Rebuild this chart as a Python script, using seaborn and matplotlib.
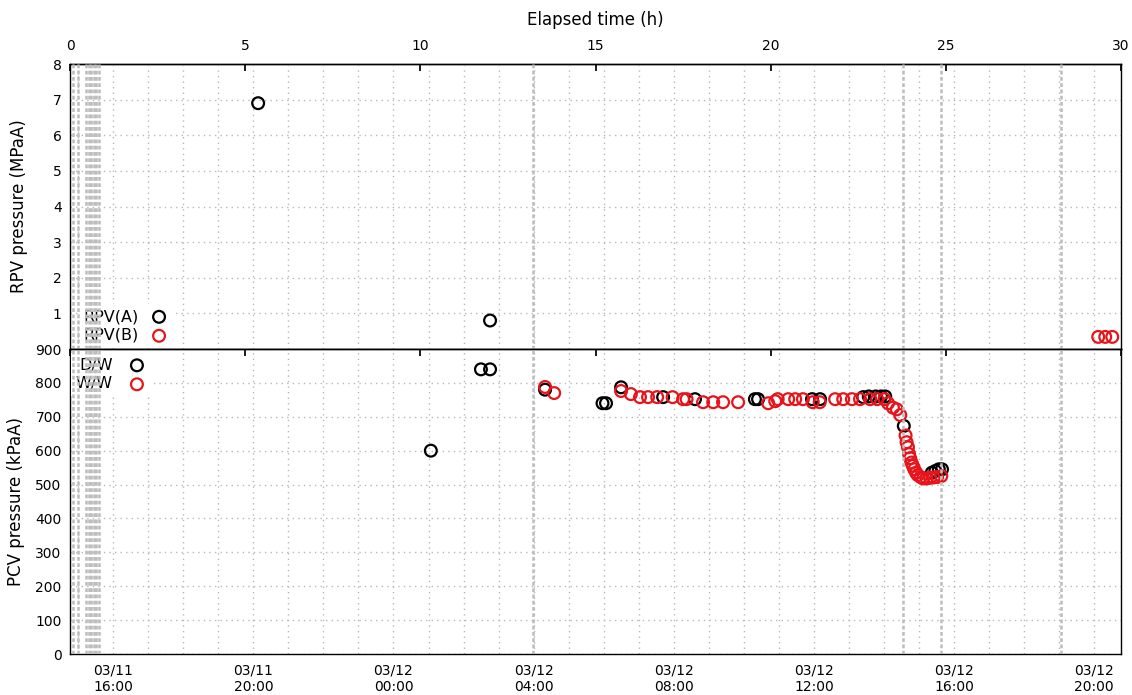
import matplotlib
matplotlib.use("Agg")
import matplotlib.pyplot as plt
import pandas as pd
import seaborn as sns

# time axis: hours elapsed since the earthquake
start = pd.Timestamp("2011-03-11 14:46")

# RPV pressure (MPa abs)
rpv_a_time = [5.37, 11.99]
rpv_a_mpa = [6.9, 0.8]
rpv_b_time = [29.35, 29.55, 29.75]
rpv_b_mpa = [0.34, 0.34, 0.34]

# PCV pressure (kPa abs)
dw_time = [10.3, 11.73, 11.99, 13.56, 15.2, 15.3, 15.73, 16.93, 17.84, 19.55,
           19.64, 21.18, 21.41, 22.64, 22.8, 23.0, 23.15, 23.27, 23.8, 24.6,
           24.7, 24.8, 24.89]
dw_kpa = [600, 840, 840, 780, 740, 740, 787, 758, 752, 752,
          752, 752, 752, 758, 760, 760, 760, 760, 673, 535,
          540, 545, 545]

ww_time = [13.56, 13.82, 15.73, 16.01, 16.27, 16.5, 16.76, 17.2, 17.5, 17.6,
           18.07, 18.36, 18.64, 19.07, 19.93, 20.13, 20.2, 20.5, 20.7, 20.92,
           21.2, 21.4, 21.84, 22.07, 22.32, 22.55, 22.84, 23.04, 23.25, 23.35,
           23.49, 23.6, 23.7, 23.85, 23.88, 23.92, 23.95, 23.98, 24.02, 24.06,
           24.1, 24.15, 24.2, 24.28, 24.35, 24.45, 24.55, 24.65, 24.75, 24.87]
ww_kpa = [788, 770, 776, 767, 758, 758, 758, 758, 752, 752,
          743, 743, 743, 743, 740, 746, 752, 752, 752, 752,
          743, 743, 752, 752, 752, 752, 752, 752, 752, 740,
          727, 722, 705, 645, 625, 610, 590, 578, 565, 555,
          545, 535, 528, 522, 518, 518, 520, 521, 522, 525]

# vertical event markers (venting / explosions etc.)
event_times = [0.08, 0.22, 0.47, 0.54, 0.61, 0.68, 0.75, 0.82,
               13.22, 23.78, 24.86, 28.29]

elapsed_ticks = [0, 5, 10, 15, 20, 25, 30]
rpv_ticks = [1, 2, 3, 4, 5, 6, 7, 8]
pcv_ticks = [0, 100, 200, 300, 400, 500, 600, 700, 800, 900]

hours = pd.date_range("2011-03-11 15:00", "2011-03-12 20:00", freq="h")
hour_pos = list((hours - start) / pd.Timedelta(hours=1))
hour_labels = [f"{h:%m/%d}\n{h:%H:%M}" if h.hour % 4 == 0 else "" for h in hours]

sns.set_theme(style="white")
plt.rcParams["font.family"] = ["DejaVu Sans"]
plt.rcParams["font.size"] = 10
plt.rcParams["text.color"] = "black"
plt.rcParams["axes.labelcolor"] = "black"
plt.rcParams["xtick.color"] = "black"
plt.rcParams["ytick.color"] = "black"
plt.rcParams["axes.edgecolor"] = "black"
plt.rcParams["axes.linewidth"] = 1.0

RED = "#e8141c"
grid_kw = dict(color="#b8b8b8", linestyle=(0, (1, 3)), linewidth=1.0)
mk = dict(marker="o", s=72, facecolors="none", linewidth=1.6)

fig = plt.figure(figsize=(11.32, 6.95), dpi=100)
ax1 = fig.add_axes([0.06184, 0.49784, 0.92845, 0.41007])
ax2 = fig.add_axes([0.06184, 0.05899, 0.92845, 0.43885])

for ax in (ax1, ax2):
    ax.set_xlim(0, 30)
    ax.set_xticks(hour_pos)
    ax.grid(True, **grid_kw)
    ax.set_axisbelow(True)
    for t in event_times:
        ax.axvline(t, color="#bcbcbc", linestyle=(0, (1.5, 1)), linewidth=1.8, zorder=6)
    ax.tick_params(axis="both", direction="in", length=5, width=1, colors="black",
                   top=False, right=False, labelsize=10)
    ax.tick_params(axis="y", pad=6)

# top panel: RPV
sns.scatterplot(x=rpv_a_time, y=rpv_a_mpa, ax=ax1, edgecolor="black", label="RPV(A)", **mk)
sns.scatterplot(x=rpv_b_time, y=rpv_b_mpa, ax=ax1, edgecolor=RED, label="RPV(B)", **mk)
ax1.set_ylim(0, 8)
ax1.set_yticks(rpv_ticks)
ax1.set_xticklabels([])
ax1.set_ylabel("RPV pressure (MPaA)")
ax1.yaxis.set_label_coords(-0.040, 0.5)

top = ax1.secondary_xaxis("top")
top.set_xticks(elapsed_ticks)
top.tick_params(direction="in", length=5, pad=8, labelsize=10, colors="black")
top.set_xlabel("Elapsed time (h)", labelpad=10)

# bottom panel: PCV
sns.scatterplot(x=dw_time, y=dw_kpa, ax=ax2, edgecolor="black", label="D/W", **mk)
sns.scatterplot(x=ww_time, y=ww_kpa, ax=ax2, edgecolor=RED, label="W/W", **mk)
ax2.set_ylim(0, 900)
ax2.set_yticks(pcv_ticks)
ax2.set_xticklabels(hour_labels)
ax2.tick_params(axis="x", pad=7)
ax2.set_ylabel("PCV pressure (kPaA)")
ax2.yaxis.set_label_coords(-0.043, 0.5)

top2 = ax2.secondary_xaxis("top")
top2.set_xticks(elapsed_ticks)
top2.set_xticklabels([])
top2.tick_params(direction="in", length=5, colors="black")

leg_kw = dict(markerfirst=False, frameon=True, facecolor="white", edgecolor="none",
              framealpha=1, fancybox=False, borderpad=0.3, borderaxespad=0,
              handlelength=1.2, labelspacing=0.25, fontsize=11.5, loc="center left")
ax1.legend(bbox_to_anchor=(0.0086, 0.0807), handletextpad=0.65, **leg_kw)
ax2.legend(bbox_to_anchor=(0.001, 0.9164), handletextpad=0.9, **leg_kw)

fig.savefig("out.png", dpi=100)
